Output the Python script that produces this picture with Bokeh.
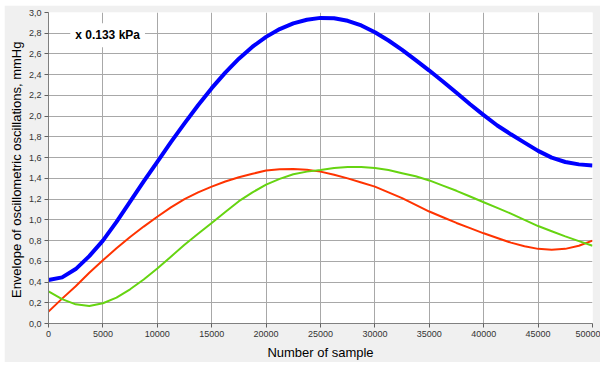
from bokeh.plotting import figure
from bokeh.models import Label, FixedTicker, CustomJSTickFormatter, Range1d
from bokeh.embed import file_html
from bokeh.resources import INLINE

# --- data ---
samples = [0, 1250, 2500, 3750, 5000, 6250, 7500, 8750, 10000, 11250, 12500,
           13750, 15000, 16250, 17500, 18750, 20000, 21250, 22500, 23750, 25000,
           26250, 27500, 28750, 30000, 31250, 32500, 33750, 35000, 36250, 37500,
           38750, 40000, 41250, 42500, 43750, 45000, 46250, 47500, 48750, 50000]
blue_env = [0.42, 0.445, 0.525, 0.65, 0.80, 0.98, 1.175, 1.37, 1.56, 1.75, 1.93,
            2.105, 2.27, 2.42, 2.555, 2.67, 2.765, 2.84, 2.895, 2.93, 2.948,
            2.945, 2.92, 2.875, 2.81, 2.73, 2.64, 2.54, 2.44, 2.335, 2.225,
            2.115, 2.01, 1.91, 1.825, 1.745, 1.665, 1.60, 1.558, 1.535, 1.525]
red_env = [0.115, 0.24, 0.36, 0.49, 0.61, 0.725, 0.835, 0.935, 1.03, 1.12, 1.20,
           1.265, 1.32, 1.37, 1.41, 1.445, 1.475, 1.488, 1.49, 1.482, 1.465,
           1.435, 1.40, 1.36, 1.32, 1.265, 1.21, 1.145, 1.08, 1.025, 0.97,
           0.92, 0.87, 0.825, 0.78, 0.745, 0.72, 0.712, 0.72, 0.75, 0.80]
green_env = [0.31, 0.235, 0.185, 0.168, 0.195, 0.25, 0.33, 0.425, 0.53, 0.645, 0.76,
             0.865, 0.97, 1.075, 1.18, 1.265, 1.34, 1.395, 1.44, 1.465, 1.48,
             1.50, 1.51, 1.51, 1.50, 1.48, 1.45, 1.42, 1.38, 1.33, 1.28,
             1.225, 1.17, 1.115, 1.06, 1.00, 0.94, 0.89, 0.84, 0.795, 0.75]

x_ticks = [0, 5000, 10000, 15000, 20000, 25000, 30000, 35000, 40000, 45000, 50000]
y_ticks = [0.0, 0.2, 0.4, 0.6, 0.8, 1.0, 1.2, 1.4, 1.6, 1.8, 2.0, 2.2, 2.4, 2.6, 2.8, 3.0]
unit_note = "x 0.133 kPa"
x_title = "Number of sample"
y_title = "Envelope of oscillometric oscillations,  mmHg"

FONT = "Liberation Sans"
BG = "#f0f0f0"

p = figure(width=596, height=357, output_backend="svg", toolbar_location=None,
           x_range=Range1d(0, 50000), y_range=Range1d(0, 3.0),
           min_border_left=44, min_border_right=8, min_border_top=7,
           min_border_bottom=32)
p.margin = (5, 3, 3, 4)
p.border_fill_color = BG
p.background_fill_color = "white"
p.outline_line_color = None

p.xaxis.ticker = FixedTicker(ticks=x_ticks)
p.yaxis.ticker = FixedTicker(ticks=y_ticks)
p.yaxis.formatter = CustomJSTickFormatter(code="return tick.toFixed(1).replace('.', ',');")
p.xaxis.formatter = CustomJSTickFormatter(code="return tick.toFixed(0);")

for ax in (p.xaxis[0], p.yaxis[0]):
    ax.axis_line_color = "#808080"
    ax.major_tick_line_color = "#606060"
    ax.major_tick_out = 4
    ax.major_tick_in = 0
    ax.minor_tick_line_color = None
    ax.major_label_text_font = FONT
    ax.major_label_text_font_size = "9px"
    ax.major_label_text_color = "#333333"
    ax.axis_label_text_font = FONT
    ax.axis_label_text_font_size = "13px"
    ax.axis_label_text_font_style = "normal"
    ax.axis_label_text_color = "#000000"
    ax.major_label_standoff = 3

p.xaxis.axis_label = x_title
p.yaxis.axis_label = y_title
p.xaxis.axis_label_standoff = 5
p.yaxis.axis_label_standoff = 2

p.grid.grid_line_color = "#a8a8a8"
p.grid.grid_line_width = 1

p.line(samples, red_env, line_color="#ff3300", line_width=2, line_join="round")
p.line(samples, green_env, line_color="#66d411", line_width=2, line_join="round")
p.line(samples, blue_env, line_color="#0000ff", line_width=4, line_join="round")

p.add_layout(Label(x=2000, y=2.78, text=unit_note, text_font=FONT,
                   text_font_size="12px", text_font_style="bold",
                   text_color="black", text_baseline="middle",
                   background_fill_color="white", padding=5))

open("out.html", "w").write(file_html(p, INLINE))
